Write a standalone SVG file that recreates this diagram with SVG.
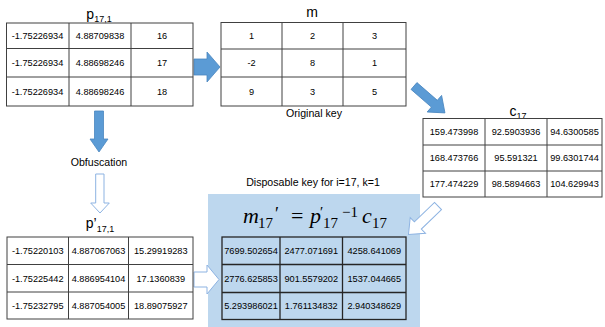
<svg xmlns="http://www.w3.org/2000/svg" width="605" height="327" viewBox="0 0 605 327">
  <style>
    text { font-family: "Liberation Sans", Arial, sans-serif; fill: #000; }
    .cell { font-size: 9.2px; text-anchor: middle; }
    .title { font-size: 14px; text-anchor: middle; }
    .label { font-size: 10.6px; text-anchor: middle; }
    .grid { fill: none; stroke: #404040; stroke-width: 1; }
    .grid-dark { fill: none; stroke: #262626; stroke-width: 1.3; }
    .solid-arrow { fill: #5b9bd5; stroke: #4a86bf; stroke-width: 0.8; }
    .hollow-arrow { fill: #fff; stroke: #8db3e2; stroke-width: 1; }
    .math { font-family: "Liberation Serif", "Times New Roman", serif; font-size: 22px; }
    .it { font-style: italic; }
    .sub { font-size: 15px; }
  </style>

  <!-- key box background -->
  <rect x="208" y="194" width="212" height="133" fill="#bdd7ee"/>

  <!-- connectors -->
  <g id="connectors">
    <path class="solid-arrow" d="M194,59 H207 V52 L220,67 L207,82 V75 H194 Z"/>
    <path class="solid-arrow" d="M94.5,111 H103.5 V139 H108 L99,152 L90,139 H94.5 Z"/>
    <path class="solid-arrow" transform="translate(414,86) rotate(41)" d="M0,-4.5 H27 V-11 L41,0 L27,11 V4.5 H0 Z"/>
    <path class="hollow-arrow" d="M95.7,174 H104 V203 H109.3 L100,213 L90.7,203 H95.7 Z"/>
    <path class="hollow-arrow" d="M194,272 H207 V265 L219,279.5 L207,294 V287 H194 Z"/>
    <path class="hollow-arrow" transform="translate(438,206) rotate(136)" d="M0,-5 H28 V-11 L41,0 L28,11 V5 H0 Z"/>
  </g>

  <!-- plaintext block p_{17,1} -->
  <g id="p-block">
    <text class="title" x="99" y="19">p<tspan font-size="9" dy="3">17,1</tspan></text>
    <rect class="grid" x="6.5" y="23" width="186.5" height="83"/>
    <path class="grid" d="M69,23 V106 M131,23 V106 M6.5,48.5 H193 M6.5,77 H193"/>
    <text class="cell" x="37.5" y="39">-1.75226934</text>
    <text class="cell" x="100" y="39">4.88709838</text>
    <text class="cell" x="162" y="39">16</text>
    <text class="cell" x="37.5" y="66">-1.75226934</text>
    <text class="cell" x="100" y="66">4.88698246</text>
    <text class="cell" x="162" y="66">17</text>
    <text class="cell" x="37.5" y="95">-1.75226934</text>
    <text class="cell" x="100" y="95">4.88698246</text>
    <text class="cell" x="162" y="95">18</text>
  </g>

  <!-- original key m -->
  <g id="m-block">
    <text class="title" x="312" y="17">m</text>
    <rect class="grid" x="221" y="22.5" width="185" height="83.5"/>
    <path class="grid" d="M282,22.5 V106 M343,22.5 V106 M221,49 H406 M221,77 H406"/>
    <text class="cell" x="251.5" y="39">1</text>
    <text class="cell" x="312.5" y="39">2</text>
    <text class="cell" x="374.5" y="39">3</text>
    <text class="cell" x="251.5" y="66">-2</text>
    <text class="cell" x="312.5" y="66">8</text>
    <text class="cell" x="374.5" y="66">1</text>
    <text class="cell" x="251.5" y="95">9</text>
    <text class="cell" x="312.5" y="95">3</text>
    <text class="cell" x="374.5" y="95">5</text>
    <text class="label" x="314" y="117">Original key</text>
  </g>

  <!-- ciphertext block c_17 -->
  <g id="c-block">
    <text class="title" x="518" y="116">c<tspan font-size="9" dy="3">17</tspan></text>
    <rect class="grid" x="423" y="118.5" width="179" height="78.5"/>
    <path class="grid" d="M485,118.5 V197 M547,118.5 V197 M423,145 H602 M423,171 H602"/>
    <text class="cell" x="454" y="135">159.473998</text>
    <text class="cell" x="516" y="135">92.5903936</text>
    <text class="cell" x="574.5" y="135">94.6300585</text>
    <text class="cell" x="454" y="161">168.473766</text>
    <text class="cell" x="516" y="161">95.591321</text>
    <text class="cell" x="574.5" y="161">99.6301744</text>
    <text class="cell" x="454" y="187">177.474229</text>
    <text class="cell" x="516" y="187">98.5894663</text>
    <text class="cell" x="574.5" y="187">104.629943</text>
  </g>

  <!-- obfuscation step -->
  <g id="obfuscation">
    <text class="label" x="99" y="166">Obfuscation</text>
  </g>

  <!-- obfuscated block p'_{17,1} -->
  <g id="p-prime-block">
    <text class="title" x="100" y="228" font-size="15">p’<tspan font-size="9" dy="4">17,1</tspan></text>
    <rect class="grid" x="7" y="237" width="186" height="82"/>
    <path class="grid" d="M68.5,237 V319 M128.5,237 V319 M7,264.5 H193 M7,292 H193"/>
    <text class="cell" x="37.75" y="254">-1.75220103</text>
    <text class="cell" x="98.5" y="254">4.887067063</text>
    <text class="cell" x="160.75" y="254">15.29919283</text>
    <text class="cell" x="37.75" y="281.5">-1.75225442</text>
    <text class="cell" x="98.5" y="281.5">4.886954104</text>
    <text class="cell" x="160.75" y="281.5">17.1360839</text>
    <text class="cell" x="37.75" y="308.5">-1.75232795</text>
    <text class="cell" x="98.5" y="308.5">4.887054005</text>
    <text class="cell" x="160.75" y="308.5">18.89075927</text>
  </g>

  <!-- disposable key m'_17 -->
  <g id="key-block">
    <text class="label" x="313" y="186" font-size="10">Disposable key for i=17, k=1</text>
    <!-- m17' = p'17^-1 c17 -->
    <text class="math"><tspan class="it" x="243" y="223">m</tspan><tspan class="sub" x="258" y="228">17</tspan><tspan font-size="18" x="275" y="220">′</tspan><tspan x="291" y="223">=</tspan><tspan class="it" x="310" y="223">p</tspan><tspan class="sub" x="320" y="217">′</tspan><tspan class="sub" x="323" y="228">17</tspan><tspan class="sub" x="342" y="217">−1</tspan><tspan class="it" x="362" y="223">c</tspan><tspan class="sub" x="372" y="228">17</tspan></text>
    <rect class="grid-dark" x="222" y="237" width="184" height="82.5"/>
    <path class="grid-dark" d="M280,237 V319.5 M342.5,237 V319.5 M222,264.5 H406 M222,292.5 H406"/>
    <text class="cell" x="251" y="254">7699.502654</text>
    <text class="cell" x="311.25" y="254">2477.071691</text>
    <text class="cell" x="374.25" y="254">4258.641069</text>
    <text class="cell" x="251" y="281.5">2776.625853</text>
    <text class="cell" x="311.25" y="281.5">901.5579202</text>
    <text class="cell" x="374.25" y="281.5">1537.044665</text>
    <text class="cell" x="251" y="309">5.293986021</text>
    <text class="cell" x="311.25" y="309">1.761134832</text>
    <text class="cell" x="374.25" y="309">2.940348629</text>
  </g>
</svg>
